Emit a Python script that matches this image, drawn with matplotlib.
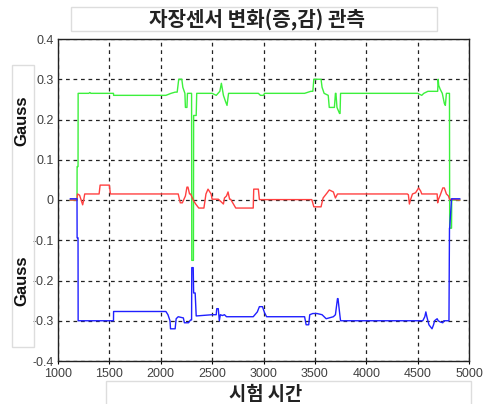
import matplotlib
matplotlib.use("Agg")
import matplotlib.pyplot as plt
from matplotlib.patches import Rectangle

plt.rcParams['font.family'] = ['Noto Sans CJK KR', 'DejaVu Sans']

title = "자장센서 변화(증,감) 관측"
xlabel = "시험 시간"
ylabel = "Gauss"

# green series (time, Gauss)
green_x = [1120, 1185, 1186, 1195, 1196, 1300, 1310, 1320, 1540, 1541, 2050, 2100, 2140, 2160, 2175, 2205, 2215, 2235,
           2240, 2255, 2260, 2270, 2275, 2300, 2302, 2318, 2320, 2330, 2345, 2350, 2500, 2540, 2575, 2590, 2610,
           2630, 2645, 2660, 2680, 2950, 2970, 3000, 3010, 3400, 3460, 3480, 3490, 3560, 3570, 3590, 3630, 3640,
           3690, 3700, 3705, 3715, 3740, 3745, 3750, 3760, 4500, 4540, 4560, 4600, 4650, 4695, 4700, 4705, 4720,
           4740, 4760, 4770, 4780, 4790, 4805, 4810, 4812, 4830, 4832, 4910]
green_y = [0.0, 0.0, 0.083, 0.083, 0.265, 0.265, 0.267, 0.265, 0.265, 0.26, 0.26, 0.265, 0.268, 0.268, 0.30, 0.30,
           0.28, 0.265, 0.23, 0.23, 0.265, 0.265, 0.265, 0.265, -0.15, -0.15, 0.21, 0.21, 0.21, 0.265, 0.265,
           0.26, 0.27, 0.29, 0.26, 0.245, 0.235, 0.265, 0.265, 0.265, 0.26, 0.26, 0.265, 0.265, 0.27, 0.27, 0.30,
           0.30, 0.28, 0.265, 0.26, 0.23, 0.23, 0.265, 0.265, 0.23, 0.215, 0.215, 0.265, 0.265, 0.265, 0.26,
           0.265, 0.27, 0.27, 0.27, 0.30, 0.285, 0.275, 0.265, 0.24, 0.235, 0.265, 0.265, 0.265, 0.265, -0.07,
           -0.07, 0.0, 0.0]

# red series
red_x = [1120, 1185, 1190, 1210, 1225, 1240, 1250, 1260, 1400, 1410, 1500, 1510, 2150, 2170, 2190, 2210, 2240,
         2255, 2265, 2280, 2290, 2320, 2340, 2370, 2420, 2440, 2460, 2490, 2500, 2560, 2590, 2610, 2620, 2640,
         2655, 2670, 2680, 2730, 2900, 2905, 2950, 2960, 3470, 3490, 3560, 3580, 3620, 3640, 3680, 3700, 3720,
         4400, 4410, 4420, 4430, 4450, 4480, 4510, 4530, 4540, 4560, 4690, 4695, 4700, 4720, 4745, 4760, 4780,
         4800, 4810, 4910]
red_y = [0.0, 0.0, 0.015, 0.012, 0.0, -0.012, 0.0, 0.015, 0.015, 0.037, 0.037, 0.015, 0.015, 0.015, -0.007,
         -0.007, 0.01, 0.032, 0.032, 0.015, 0.015, -0.002, -0.01, -0.02, -0.02, 0.015, 0.027, 0.015, 0.002,
         0.002, -0.005, -0.01, 0.005, 0.01, 0.02, 0.002, 0.002, -0.02, -0.02, 0.027, 0.027, 0.001, 0.001,
         -0.017, -0.017, 0.005, 0.018, 0.025, 0.02, 0.005, 0.015, 0.015, 0.013, -0.01, 0.0, 0.015, 0.018, 0.03,
         0.022, 0.015, 0.015, 0.015, -0.007, 0.0, 0.012, 0.03, 0.03, 0.015, 0.01, 0.002, 0.0]

# blue series
blue_x = [1120, 1185, 1186, 1195, 1196, 1540, 1541, 2050, 2070, 2090, 2095, 2140, 2150, 2170, 2220, 2230,
          2270, 2290, 2300, 2302, 2316, 2320, 2335, 2345, 2350, 2500, 2540, 2545, 2560, 2570, 2580, 2600,
          2620, 2640, 2650, 2900, 2940, 2960, 2990, 3010, 3030, 3400, 3415, 3440, 3450, 3480, 3520, 3570,
          3610, 3680, 3700, 3720, 3725, 3745, 3750, 3760, 4550, 4570, 4580, 4590, 4610, 4640, 4655, 4665,
          4690, 4700, 4720, 4745, 4755, 4770, 4805, 4810, 4812, 4830, 4832, 4910]
blue_y = [0.003, 0.003, -0.094, -0.094, -0.30, -0.30, -0.277, -0.277, -0.285, -0.30, -0.32, -0.32, -0.295,
          -0.29, -0.293, -0.305, -0.305, -0.298, -0.298, -0.168, -0.168, -0.231, -0.231, -0.288, -0.288,
          -0.285, -0.285, -0.27, -0.27, -0.30, -0.285, -0.287, -0.285, -0.29, -0.29, -0.29, -0.278, -0.265,
          -0.265, -0.28, -0.29, -0.29, -0.31, -0.31, -0.285, -0.282, -0.282, -0.285, -0.295, -0.29, -0.285,
          -0.245, -0.245, -0.29, -0.30, -0.30, -0.30, -0.29, -0.278, -0.29, -0.31, -0.32, -0.31, -0.30,
          -0.295, -0.30, -0.303, -0.305, -0.30, -0.30, -0.30, -0.07, -0.07, 0.003, 0.003, 0.003]

xticks = [1000, 1500, 2000, 2500, 3000, 3500, 4000, 4500, 5000]
yticks = [-0.4, -0.3, -0.2, -0.1, 0.0, 0.1, 0.2, 0.3, 0.4]
ytick_labels = ["-0.4", "-0.3", "-0.2", "-0.1", "0", "0.1", "0.2", "0.3", "0.4"]

W, H = 488, 404
fig = plt.figure(figsize=(W / 100, H / 100), dpi=100)
ax = fig.add_axes([58 / W, 1 - 361 / H, (469 - 58) / W, (361 - 39) / H])

ax.plot(green_x, green_y, color='#3cf03c', lw=1.0)
ax.plot(red_x, red_y, color='#ff4040', lw=1.0)
ax.plot(blue_x, blue_y, color='#2020ff', lw=1.0)

ax.set_xlim(1000, 5000)
ax.set_ylim(-0.4, 0.4)
ax.set_xticks(xticks)
ax.set_yticks(yticks)
ax.set_yticklabels(ytick_labels)
ax.grid(True, color='#222222', linestyle=(0, (3, 3)), linewidth=0.9)
ax.tick_params(axis='y', labelsize=9, labelcolor='#404040', length=0, pad=3,
               labelfontfamily='Liberation Sans')
ax.tick_params(axis='x', labelsize=9, labelcolor='#404040', length=2, width=0.8, pad=3,
               labelfontfamily='Liberation Sans')
for s in ax.spines.values():
    s.set_color('#222222')
    s.set_linewidth(1.0)

def box(x0, y0, x1, y1):
    fig.add_artist(Rectangle((x0 / W, 1 - y1 / H), (x1 - x0) / W, (y1 - y0) / H,
                             transform=fig.transFigure, fill=False, edgecolor='#dddddd', lw=1.0))

box(71, 7, 437, 31)
box(12, 65, 34, 347)
box(106, 381, 471, 410)

fig.text(257 / W, 1 - 19 / H, title, ha='center', va='center', fontsize=14.5, fontweight='bold', color='#222222')
fig.text(266 / W, 1 - 395 / H, xlabel, ha='center', va='center', fontsize=13.5, fontweight='bold', color='#222222')
fig.text(22 / W, 1 - 121 / H, ylabel, ha='center', va='center', rotation=90, fontsize=12, fontweight='bold',
         color='#111111', family='Liberation Sans')
fig.text(22 / W, 1 - 281 / H, ylabel, ha='center', va='center', rotation=90, fontsize=12, fontweight='bold',
         color='#111111', family='Liberation Sans')

fig.savefig('out.png', dpi=100)
